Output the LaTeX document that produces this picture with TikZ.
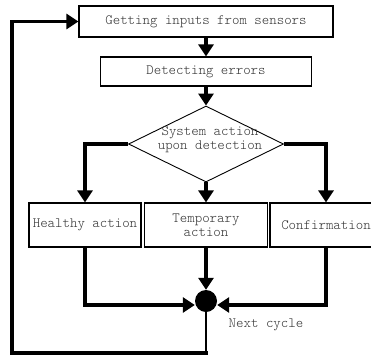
\documentclass[tikz,border=0pt]{standalone}
\usepackage{fontspec}
\setmainfont{Latin Modern Mono Light}
\usetikzlibrary{shapes.geometric,arrows.meta}
\begin{document}
\begin{tikzpicture}[x=1pt,y=-1pt,
  txt/.style={inner sep=0pt, text=black!80, font=\fontsize{14.2}{14}\selectfont},
  box/.style={txt, draw=black, line width=1.1pt, align=center},
  decision/.style={draw, diamond, line width=0.9pt, inner sep=0pt,
                   minimum width=155pt, minimum height=76pt},
  flow/.style={line width=3.5pt, -{Triangle[length=12pt,width=15pt]}},
  feedback/.style={line width=3.5pt, line cap=rect, -{Triangle[length=12pt,width=15pt]}},
]
\useasboundingbox (0,0) rectangle (371,356);

% process steps
\node[box, minimum width=254pt, minimum height=31pt] (inputs) at (206,21.5) {Getting inputs from sensors};
\node[box, minimum width=211pt, minimum height=29pt] (detect) at (206,71.5) {Detecting errors};

% decision
\node[decision] (decide) at (206,144) {};
\node[txt, align=center] (decidetext) at (210,140) {System action\\upon detection};

% outcomes
\node[box, minimum width=112pt, minimum height=44pt] (healthy) at (85,225) {Healthy action};
\node[box, minimum width=123pt, minimum height=44pt,
      font=\fontsize{14.2}{13.5}\selectfont] (temp) at (206,225) {Temporary\\action};
\node[box, minimum width=112pt, minimum height=44pt] (confirm) at (326,225) {Confirmation};

% merge point
\node[circle, fill=black, minimum size=22pt, inner sep=0pt] (join) at (206,301) {};
\node[txt] (nextlabel) at (266,325) {Next cycle};

\coordinate (loopcorner) at (206,353);
\coordinate (loopleft) at (12,353);

% connectors
\draw[flow] (inputs.south) -- (detect.north);
\draw[flow] (detect.south) -- (decide.north);
\draw[flow] (decide.west) -| (healthy.north);
\draw[flow] (decide.south) -- (temp.north);
\draw[flow] (decide.east) -| (confirm.north);

\draw[flow] (healthy.south) |- ([yshift=-4pt]join.west);
\draw[flow] (temp.south) -- (join.north);
\draw[flow] (confirm.south) |- ([yshift=-4pt]join.east);

% feedback loop to the next cycle
\draw[line width=2.2pt] (join.south) -- (loopcorner);
\draw[feedback] (loopcorner) -- (loopleft) |- (inputs.west);
\end{tikzpicture}
\end{document}
